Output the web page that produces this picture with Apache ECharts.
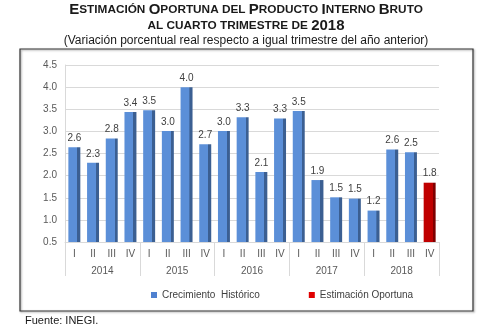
<!DOCTYPE html>
<html><head><meta charset="utf-8">
<script src="https://cdn.jsdelivr.net/npm/echarts@6/dist/echarts.min.js"></script>
<style>html,body{margin:0;padding:0;background:#fff}#c{width:492px;height:329px}</style>
</head><body><div id="c"></div>
<script>
const quarters = ['I','II','III','IV','I','II','III','IV','I','II','III','IV','I','II','III','IV','I','II','III','IV'];
const years = ['2014','2015','2016','2017','2018'];
const historico = [2.64,2.29,2.84,3.44,3.48,3.01,4.0,2.71,3.01,3.32,2.08,3.29,3.46,1.9,1.51,1.48,1.21,2.59,2.53,null];
const oportuna = [null,null,null,null,null,null,null,null,null,null,null,null,null,null,null,null,null,null,null,1.84];
const yTicks = {min:0.5, max:4.5, interval:0.5};

const F = 'Liberation Sans, Arial, sans-serif';
function grad(a,b){
  return new echarts.graphic.LinearGradient(0,0,1,0,[
    {offset:0,color:a},{offset:0.74,color:a},{offset:0.75,color:b},{offset:1,color:b}]);
}
const chart = echarts.init(document.getElementById('c'));
const lbl = {show:true, position:'top', distance:4, color:'#404040', fontSize:10, fontFamily:F,
  formatter: p => p.value==null ? '' : p.value.toFixed(1)};
chart.setOption({
  animation:false,
  textStyle:{fontFamily:F},
  title:[{
    text:'{b|E}{s|STIMACIÓN }{b|O}{s|PORTUNA DEL }{b|P}{s|RODUCTO }{b|I}{s|NTERNO }{b|B}{s|RUTO}\n{s|AL CUARTO TRIMESTRE DE }{b|2018}',
    left:'center', top:2, padding:0,
    textStyle:{rich:{
      b:{fontSize:15,fontWeight:'bold',color:'#1a1a1a',fontFamily:F,lineHeight:16},
      s:{fontSize:11.8,fontWeight:'bold',color:'#1a1a1a',fontFamily:F,lineHeight:16}
    }}
  },{
    text:'(Variación porcentual real respecto a igual trimestre del año anterior)',
    left:'center', top:35, padding:0, textStyle:{fontSize:12,fontWeight:'normal',color:'#1a1a1a',fontFamily:F}
  },{
    text:'Fuente: INEGI.', left:25, top:315, padding:0, textStyle:{fontSize:11,fontWeight:'normal',color:'#1a1a1a',fontFamily:F}
  }],
  graphic:[{type:'rect',shape:{x:20,y:49,width:453,height:262},
    style:{fill:'none',stroke:'#333',lineWidth:1.2,shadowBlur:2,shadowColor:'rgba(0,0,0,0.4)',shadowOffsetX:1,shadowOffsetY:1},z:-1}],
  legend:{left:146, top:285, itemWidth:6, itemHeight:6, itemGap:49, icon:'rect',
    textStyle:{fontSize:10,color:'#404040',fontFamily:F},
    data:[{name:'Crecimiento  Histórico',itemStyle:{color:'#4f81d0'}},{name:'Estimación Oportuna',itemStyle:{color:'#e00000'}}]},
  grid:{left:65, right:53, top:65, bottom:87},
  xAxis:[{
    type:'category', data:quarters, position:'bottom',
    axisLine:{lineStyle:{color:'#d9d9d9'}}, axisTick:{show:false},
    axisLabel:{color:'#595959',fontSize:10,margin:7,fontFamily:F}
  },{
    type:'category', data:years, position:'bottom',
    axisLine:{show:false},
    axisTick:{show:true,length:34,lineStyle:{color:'#d9d9d9'}},
    axisLabel:{color:'#595959',fontSize:10,margin:24,fontFamily:F}
  }],
  yAxis:{type:'value', min:yTicks.min, max:yTicks.max, interval:yTicks.interval,
    axisLine:{show:true,lineStyle:{color:'#d9d9d9'}},
    splitLine:{lineStyle:{color:'#d9d9d9'}},
    axisLabel:{color:'#595959',fontSize:10,margin:8,fontFamily:F,formatter:v=>v.toFixed(1)}},
  series:[{
    name:'Crecimiento  Histórico', type:'bar', stack:'a', data:historico, barWidth:'64%',
    itemStyle:{color:grad('#5b8fd8','#3b5f92')}, label:lbl
  },{
    name:'Estimación Oportuna', type:'bar', stack:'a', data:oportuna, barWidth:'64%',
    itemStyle:{color:grad('#c00000','#7f0000')}, label:lbl
  }]
});
</script></body></html>
